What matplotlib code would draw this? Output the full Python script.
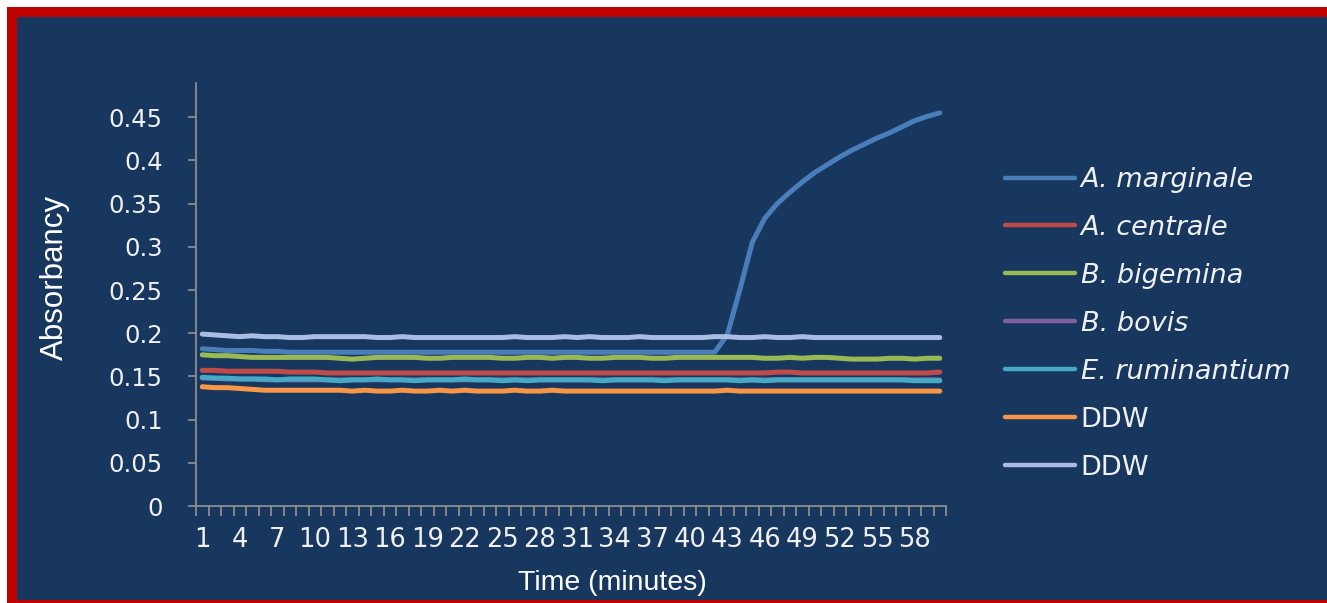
import numpy as np
import matplotlib
matplotlib.use("Agg")
import matplotlib.pyplot as plt
from matplotlib.patches import Rectangle

# ---------------- data ----------------
minutes = list(range(1, 61))
tick_minutes = list(range(1, 59, 3))

a_marginale = [0.182, 0.181, 0.180, 0.180, 0.180, 0.179, 0.179, 0.178, 0.178, 0.178,
               0.178, 0.178, 0.178, 0.178, 0.178, 0.178, 0.178, 0.178, 0.178, 0.178,
               0.178, 0.178, 0.178, 0.178, 0.178, 0.178, 0.178, 0.178, 0.178, 0.178,
               0.178, 0.178, 0.178, 0.178, 0.178, 0.178, 0.178, 0.178, 0.178, 0.178,
               0.178, 0.178, 0.198, 0.250, 0.305, 0.333, 0.350, 0.363, 0.375, 0.386,
               0.395, 0.404, 0.412, 0.419, 0.426, 0.432, 0.439, 0.446, 0.451, 0.455]

a_centrale = [0.157, 0.157, 0.156, 0.156, 0.156, 0.156, 0.156, 0.155, 0.155, 0.155,
              0.154, 0.154, 0.154, 0.154, 0.154, 0.154, 0.154, 0.154, 0.154, 0.154,
              0.154, 0.154, 0.154, 0.154, 0.154, 0.154, 0.154, 0.154, 0.154, 0.154,
              0.154, 0.154, 0.154, 0.154, 0.154, 0.154, 0.154, 0.154, 0.154, 0.154,
              0.154, 0.154, 0.154, 0.154, 0.154, 0.154, 0.155, 0.155, 0.154, 0.154,
              0.154, 0.154, 0.154, 0.154, 0.154, 0.154, 0.154, 0.154, 0.154, 0.155]

b_bigemina = [0.175, 0.174, 0.174, 0.173, 0.172, 0.172, 0.172, 0.172, 0.172, 0.172,
              0.172, 0.171, 0.170, 0.171, 0.172, 0.172, 0.172, 0.172, 0.171, 0.171,
              0.172, 0.172, 0.172, 0.172, 0.171, 0.171, 0.172, 0.172, 0.171, 0.172,
              0.172, 0.171, 0.171, 0.172, 0.172, 0.172, 0.171, 0.171, 0.172, 0.172,
              0.172, 0.172, 0.172, 0.172, 0.172, 0.171, 0.171, 0.172, 0.171, 0.172,
              0.172, 0.171, 0.170, 0.170, 0.170, 0.171, 0.171, 0.170, 0.171, 0.171]

b_bovis = [0.148, 0.148, 0.147, 0.147, 0.147, 0.146, 0.146, 0.146, 0.146, 0.146,
           0.146, 0.146, 0.146, 0.146, 0.146, 0.146, 0.146, 0.146, 0.146, 0.146,
           0.146, 0.146, 0.146, 0.146, 0.146, 0.146, 0.146, 0.146, 0.146, 0.146,
           0.146, 0.146, 0.146, 0.146, 0.146, 0.146, 0.146, 0.146, 0.146, 0.146,
           0.146, 0.146, 0.146, 0.146, 0.146, 0.146, 0.146, 0.146, 0.146, 0.146,
           0.146, 0.146, 0.146, 0.146, 0.146, 0.146, 0.146, 0.146, 0.146, 0.146]

e_ruminantium = [0.149, 0.148, 0.148, 0.147, 0.147, 0.147, 0.146, 0.147, 0.147, 0.147,
                 0.146, 0.145, 0.146, 0.146, 0.147, 0.146, 0.146, 0.145, 0.146, 0.146,
                 0.146, 0.147, 0.146, 0.146, 0.145, 0.146, 0.145, 0.146, 0.146, 0.146,
                 0.146, 0.146, 0.145, 0.146, 0.146, 0.146, 0.146, 0.145, 0.146, 0.146,
                 0.146, 0.146, 0.146, 0.145, 0.146, 0.145, 0.146, 0.146, 0.146, 0.146,
                 0.146, 0.146, 0.146, 0.146, 0.146, 0.146, 0.146, 0.145, 0.145, 0.145]

ddw_1 = [0.138, 0.137, 0.137, 0.136, 0.135, 0.134, 0.134, 0.134, 0.134, 0.134,
         0.134, 0.134, 0.133, 0.134, 0.133, 0.133, 0.134, 0.133, 0.133, 0.134,
         0.133, 0.134, 0.133, 0.133, 0.133, 0.134, 0.133, 0.133, 0.134, 0.133,
         0.133, 0.133, 0.133, 0.133, 0.133, 0.133, 0.133, 0.133, 0.133, 0.133,
         0.133, 0.133, 0.134, 0.133, 0.133, 0.133, 0.133, 0.133, 0.133, 0.133,
         0.133, 0.133, 0.133, 0.133, 0.133, 0.133, 0.133, 0.133, 0.133, 0.133]

ddw_2 = [0.199, 0.198, 0.197, 0.196, 0.197, 0.196, 0.196, 0.195, 0.195, 0.196,
         0.196, 0.196, 0.196, 0.196, 0.195, 0.195, 0.196, 0.195, 0.195, 0.195,
         0.195, 0.195, 0.195, 0.195, 0.195, 0.196, 0.195, 0.195, 0.195, 0.196,
         0.195, 0.196, 0.195, 0.195, 0.195, 0.196, 0.195, 0.195, 0.195, 0.195,
         0.195, 0.196, 0.196, 0.195, 0.195, 0.196, 0.195, 0.195, 0.196, 0.195,
         0.195, 0.195, 0.195, 0.195, 0.195, 0.195, 0.195, 0.195, 0.195, 0.195]

series_labels = ["A. marginale", "A. centrale", "B. bigemina", "B. bovis",
                 "E. ruminantium", "DDW", "DDW"]
series_values = [a_marginale, a_centrale, b_bigemina, b_bovis, e_ruminantium, ddw_1, ddw_2]
series_colors = ["#4a7ebb", "#be4b48", "#98b954", "#7d60a0", "#46aac5", "#f79646", "#a9bde3"]
italic_flags = [True, True, True, True, True, False, False]

y_ticks = [0, 0.05, 0.1, 0.15, 0.2, 0.25, 0.3, 0.35, 0.4, 0.45]
y_tick_labels = ["0", "0.05", "0.1", "0.15", "0.2", "0.25", "0.3", "0.35", "0.4", "0.45"]

# ---------------- figure ----------------
W, H = 1327, 603
fig = plt.figure(figsize=(W / 100, H / 100), dpi=100, facecolor="white")

navy = "#17375e"
red = "#c00000"
fig.patches.append(Rectangle((7 / W, 0), 1.0, 1 - 7 / H, transform=fig.transFigure,
                             facecolor=red, edgecolor="none", zorder=0))
fig.patches.append(Rectangle((17 / W, 3 / H), 1.0, 1 - 20 / H, transform=fig.transFigure,
                             facecolor=navy, edgecolor="none", zorder=0.5))

ax = fig.add_axes([196 / W, 1 - 506 / H, (946 - 196) / W, (506 - 83) / H])
ax.set_facecolor("none")
ax.set_zorder(2)

handles = []
for vals, lab, col in zip(series_values, series_labels, series_colors):
    (ln,) = ax.plot(minutes, vals, color=col, lw=3.6, solid_capstyle="round",
                    solid_joinstyle="round", label=lab)
    handles.append(ln)

ax.set_xlim(0.5, 60.5)
ax.set_ylim(0, 0.4896)

axis_gray = "#8c8c8c"
for s in ["top", "right"]:
    ax.spines[s].set_visible(False)
for s in ["left", "bottom"]:
    ax.spines[s].set_color(axis_gray)
    ax.spines[s].set_linewidth(1.3)

ax.set_yticks(y_ticks)
ax.set_yticklabels(y_tick_labels, fontfamily="DejaVu Sans", fontsize=17.5, color="#f0f0f0")
ax.tick_params(axis="y", direction="out", length=6, width=1.3, color=axis_gray, pad=18)

ax.set_xticks(tick_minutes)
ax.set_xticklabels([str(t) for t in tick_minutes], fontfamily="DejaVu Sans",
                   fontsize=18.5, color="#f0f0f0")
ax.set_xticks(np.arange(0.5, 61, 1), minor=True)
ax.tick_params(axis="x", which="major", length=0, pad=15)
ax.tick_params(axis="x", which="minor", direction="out", length=7, width=1.3, color=axis_gray)

fig.text(612 / W, 1 - 583 / H, "Time (minutes)", ha="center", va="center",
         fontfamily="Liberation Sans", fontsize=20.5, color="white", zorder=3)
fig.text(55 / W, 1 - 277 / H, "Absorbancy", ha="center", va="center", rotation=90,
         fontfamily="Liberation Sans", fontsize=22.5, color="white", zorder=3)

leg = fig.legend(handles=handles, labels=series_labels, loc="upper left",
                 bbox_to_anchor=(1005 / W, 1 - 167 / H), frameon=False,
                 prop={"family": "DejaVu Sans", "size": 19.5},
                 handlelength=2.6, handletextpad=0.2, labelspacing=0.81,
                 borderpad=0, borderaxespad=0)
leg.set_zorder(3)
for txt, it in zip(leg.get_texts(), italic_flags):
    txt.set_color("#f0f0f0")
    if it:
        txt.set_fontstyle("italic")
for lh in leg.get_lines():
    lh.set_linewidth(3.2)

fig.savefig("out.png", dpi=100, facecolor="white")
